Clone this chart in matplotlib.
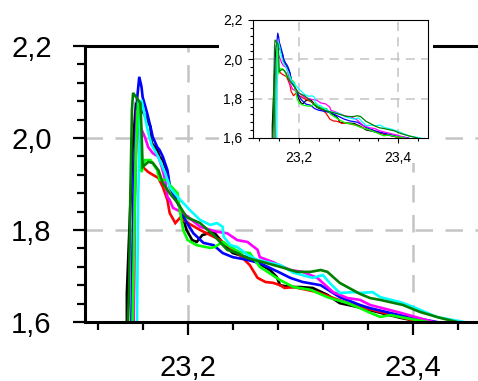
import matplotlib
matplotlib.use("Agg")
import matplotlib.pyplot as plt
from matplotlib.ticker import FixedLocator, MultipleLocator, FuncFormatter
from matplotlib.patches import Rectangle

plt.rcParams['font.family'] = ['Liberation Sans', 'DejaVu Sans']

black_x = [23.146, 23.146, 23.151, 23.154, 23.158, 23.161, 23.164, 23.167, 23.168, 23.173, 23.175, 23.178, 23.182, 23.184, 23.187, 23.193, 23.199, 23.204, 23.208, 23.213, 23.223, 23.235, 23.240, 23.255, 23.273, 23.279, 23.282, 23.291, 23.300, 23.311, 23.324, 23.335, 23.350, 23.371, 23.389, 23.408]
black_y = [1.600, 1.663, 1.974, 2.072, 2.061, 2.054, 2.039, 2.024, 1.989, 1.974, 1.959, 1.952, 1.924, 1.893, 1.880, 1.850, 1.800, 1.778, 1.774, 1.789, 1.796, 1.761, 1.750, 1.739, 1.713, 1.698, 1.680, 1.676, 1.676, 1.674, 1.659, 1.641, 1.633, 1.620, 1.609, 1.600]

red_x = [23.152, 23.153, 23.155, 23.157, 23.158, 23.160, 23.165, 23.169, 23.174, 23.178, 23.182, 23.184, 23.189, 23.193, 23.199, 23.211, 23.229, 23.246, 23.255, 23.262, 23.269, 23.276, 23.282, 23.286, 23.294, 23.315, 23.342, 23.353, 23.371, 23.389, 23.405]
red_y = [1.600, 1.865, 2.061, 2.017, 1.959, 1.937, 1.926, 1.920, 1.913, 1.893, 1.865, 1.837, 1.815, 1.826, 1.817, 1.800, 1.778, 1.746, 1.724, 1.696, 1.687, 1.685, 1.680, 1.674, 1.676, 1.665, 1.641, 1.633, 1.622, 1.611, 1.600]

blue_x = [23.150, 23.152, 23.155, 23.157, 23.159, 23.160, 23.164, 23.167, 23.169, 23.173, 23.175, 23.178, 23.182, 23.184, 23.190, 23.195, 23.199, 23.205, 23.214, 23.223, 23.231, 23.240, 23.253, 23.264, 23.282, 23.291, 23.302, 23.318, 23.335, 23.353, 23.362, 23.388, 23.406, 23.421]
blue_y = [1.600, 1.909, 2.083, 2.133, 2.111, 2.089, 2.054, 2.024, 2.002, 1.980, 1.974, 1.959, 1.930, 1.898, 1.865, 1.837, 1.817, 1.793, 1.772, 1.767, 1.750, 1.741, 1.735, 1.728, 1.707, 1.696, 1.687, 1.680, 1.654, 1.637, 1.630, 1.615, 1.607, 1.600]

magenta_x = [23.152, 23.153, 23.155, 23.158, 23.162, 23.165, 23.169, 23.174, 23.177, 23.180, 23.182, 23.184, 23.187, 23.196, 23.211, 23.226, 23.235, 23.244, 23.253, 23.262, 23.264, 23.276, 23.291, 23.302, 23.315, 23.329, 23.342, 23.353, 23.362, 23.389, 23.418]
magenta_y = [1.600, 1.865, 2.061, 2.024, 2.002, 1.980, 1.967, 1.959, 1.937, 1.909, 1.872, 1.865, 1.848, 1.837, 1.807, 1.796, 1.793, 1.778, 1.774, 1.757, 1.741, 1.730, 1.713, 1.709, 1.696, 1.665, 1.652, 1.648, 1.637, 1.620, 1.600]

lime_x = [23.151, 23.154, 23.156, 23.158, 23.159, 23.162, 23.167, 23.173, 23.175, 23.182, 23.184, 23.191, 23.193, 23.196, 23.200, 23.208, 23.220, 23.224, 23.231, 23.238, 23.246, 23.255, 23.264, 23.282, 23.294, 23.309, 23.324, 23.342, 23.353, 23.362, 23.371, 23.380, 23.397, 23.413]
lime_y = [1.600, 1.974, 2.083, 1.996, 1.926, 1.952, 1.952, 1.930, 1.909, 1.909, 1.898, 1.880, 1.843, 1.800, 1.778, 1.767, 1.761, 1.763, 1.774, 1.763, 1.752, 1.750, 1.720, 1.691, 1.676, 1.670, 1.654, 1.641, 1.630, 1.620, 1.611, 1.615, 1.607, 1.600]

cyan_x = [23.155, 23.156, 23.158, 23.159, 23.162, 23.165, 23.168, 23.173, 23.175, 23.180, 23.184, 23.191, 23.196, 23.202, 23.211, 23.220, 23.226, 23.231, 23.232, 23.238, 23.244, 23.253, 23.262, 23.282, 23.294, 23.311, 23.320, 23.326, 23.335, 23.347, 23.353, 23.364, 23.371, 23.389, 23.400, 23.421, 23.445]
cyan_y = [1.600, 1.865, 2.061, 2.083, 2.046, 2.011, 1.985, 1.963, 1.952, 1.924, 1.893, 1.872, 1.859, 1.843, 1.822, 1.811, 1.815, 1.807, 1.785, 1.767, 1.763, 1.746, 1.735, 1.724, 1.707, 1.696, 1.702, 1.685, 1.663, 1.665, 1.663, 1.665, 1.654, 1.643, 1.633, 1.611, 1.600]

darkgreen_x = [23.147, 23.148, 23.149, 23.1505, 23.1515, 23.158, 23.159, 23.160, 23.165, 23.169, 23.174, 23.178, 23.184, 23.191, 23.199, 23.211, 23.223, 23.235, 23.244, 23.253, 23.267, 23.282, 23.297, 23.309, 23.318, 23.324, 23.335, 23.353, 23.362, 23.371, 23.391, 23.406, 23.424, 23.439]
darkgreen_y = [1.600, 1.670, 1.865, 2.061, 2.098, 2.076, 2.017, 1.937, 1.948, 1.946, 1.930, 1.902, 1.880, 1.859, 1.828, 1.815, 1.789, 1.757, 1.750, 1.739, 1.730, 1.720, 1.709, 1.709, 1.713, 1.709, 1.685, 1.661, 1.652, 1.648, 1.637, 1.622, 1.609, 1.600]

series = [
    (black_x, black_y, 'black'),
    (red_x, red_y, '#ff0000'),
    (blue_x, blue_y, '#0000ff'),
    (magenta_x, magenta_y, '#ff00ff'),
    (lime_x, lime_y, '#00ff00'),
    (cyan_x, cyan_y, '#00ffff'),
    (darkgreen_x, darkgreen_y, '#008000'),
]

x_major = [23.2, 23.4]
y_major = [1.6, 1.8, 2.0, 2.2]
grid_x = [23.2, 23.4]
grid_y = [1.8, 2.0]

fmt = FuncFormatter(lambda v, p: f"{v:.1f}".replace('.', ','))

W, H = 478, 381
fig = plt.figure(figsize=(W / 100, H / 100), dpi=100)

# main axes
ax = fig.add_axes([85 / W, 1 - 322 / H, (500 - 85) / W, (322 - 46) / H])
ax.set_zorder(0)
ax.set_xlim(23.2 - (187.7 - 85) / 1126.5, 23.4 + (500 - 413) / 1126.5)
ax.set_ylim(1.6, 2.2)
for xs, ys, c in series:
    ax.plot(xs, ys, color=c, lw=1.9, solid_joinstyle='miter')
for gx in grid_x:
    ax.axvline(gx, color='#c4c4c4', lw=1.8, ls=(0, (7, 5)), zorder=0)
for gy in grid_y:
    ax.axhline(gy, color='#c4c4c4', lw=1.8, ls=(0, (7, 5)), zorder=0)
ax.xaxis.set_major_locator(FixedLocator(x_major))
ax.xaxis.set_minor_locator(MultipleLocator(0.04))
ax.yaxis.set_major_locator(FixedLocator(y_major))
ax.yaxis.set_minor_locator(MultipleLocator(0.04))
ax.xaxis.set_major_formatter(fmt)
ax.yaxis.set_major_formatter(fmt)
ax.tick_params(axis='both', which='major', direction='out', length=9, width=1.6,
               labelsize=21, colors='black')
ax.tick_params(axis='both', which='minor', direction='out', length=6, width=1.6)
ax.tick_params(axis='x', which='major', pad=14)
ax.tick_params(axis='y', which='major', pad=15)
for s in ['left', 'bottom', 'top']:
    ax.spines[s].set_linewidth(2.2)
ax.spines['right'].set_visible(False)

# white backdrop behind inset
fig.add_artist(Rectangle((219 / W, 1 - 163 / H), 214 / W, 163 / H,
                         transform=fig.transFigure, facecolor='white',
                         edgecolor='none', zorder=1))

# inset
ins = fig.add_axes([253 / W, 1 - 138 / H, 175 / W, 118 / H])
ins.set_zorder(2)
ins.set_xlim(23.2 - 46 / 495, 23.4 + 29.7 / 495)
ins.set_ylim(1.6, 2.2)
for xs, ys, c in series:
    ins.plot(xs, ys, color=c, lw=0.9)
for gx in grid_x:
    ins.axvline(gx, color='#c4c4c4', lw=1.1, ls=(0, (6, 4)), zorder=0)
for gy in grid_y:
    ins.axhline(gy, color='#c4c4c4', lw=1.1, ls=(0, (6, 4)), zorder=0)
ins.xaxis.set_major_locator(FixedLocator(x_major))
ins.xaxis.set_minor_locator(MultipleLocator(0.04))
ins.yaxis.set_major_locator(FixedLocator(y_major))
ins.yaxis.set_minor_locator(MultipleLocator(0.04))
ins.xaxis.set_major_formatter(fmt)
ins.yaxis.set_major_formatter(fmt)
ins.tick_params(axis='both', which='major', direction='out', length=3.5, width=0.8,
                labelsize=10)
ins.tick_params(axis='both', which='minor', direction='out', length=2.5, width=0.8)
ins.tick_params(axis='x', which='major', pad=6)
ins.tick_params(axis='y', which='major', pad=4)
for s in ins.spines.values():
    s.set_linewidth(0.8)

fig.savefig('out.png', dpi=100)
